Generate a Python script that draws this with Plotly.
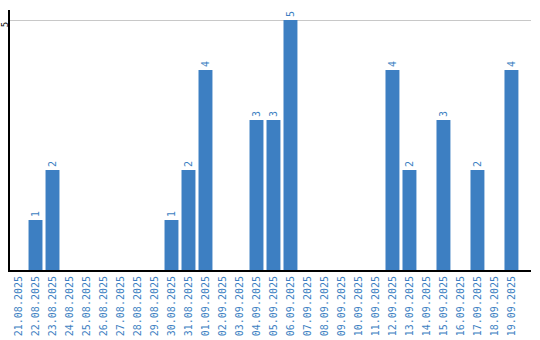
import plotly.graph_objects as go

dates = ["21.08.2025","22.08.2025","23.08.2025","24.08.2025","25.08.2025","26.08.2025",
         "27.08.2025","28.08.2025","29.08.2025","30.08.2025","31.08.2025","01.09.2025",
         "02.09.2025","03.09.2025","04.09.2025","05.09.2025","06.09.2025","07.09.2025",
         "08.09.2025","09.09.2025","10.09.2025","11.09.2025","12.09.2025","13.09.2025",
         "14.09.2025","15.09.2025","16.09.2025","17.09.2025","18.09.2025","19.09.2025"]
values = [0,1,2,0,0,0,0,0,0,1,2,4,0,0,3,3,5,0,0,0,0,0,4,2,0,3,0,2,0,4]
labels = [str(v) if v > 0 else "" for v in values]

blue = "#3d7fc2"
fig = go.Figure(go.Bar(
    x=dates, y=values, text=labels, textposition="outside", textangle=-90,
    textfont=dict(family="DejaVu Sans Mono", size=10, color=blue),
    marker=dict(color=blue, line=dict(width=0)), cliponaxis=False,
))
fig.update_layout(
    width=540, height=340, margin=dict(l=10, r=9, t=10, b=70),
    paper_bgcolor="white", plot_bgcolor="white", bargap=0.18, showlegend=False,
    xaxis=dict(type="category", range=[-0.5, 30.15], tickangle=-90, automargin=False,
               tickfont=dict(family="DejaVu Sans Mono", size=10, color=blue),
               showline=True, linecolor="black", linewidth=2, ticks="", showgrid=False),
    yaxis=dict(range=[0, 5.2], tickvals=[5], ticktext=["5"], tickangle=-90, automargin=False,
               ticklabelstandoff=-4, ticklabelshift=6,
               tickfont=dict(family="DejaVu Sans Mono", size=9, color="black"),
               showline=True, linecolor="black", linewidth=2, ticks="",
               showgrid=True, gridcolor="#c8c8c8", gridwidth=1, zeroline=False),
)
fig.write_html("out.html")
